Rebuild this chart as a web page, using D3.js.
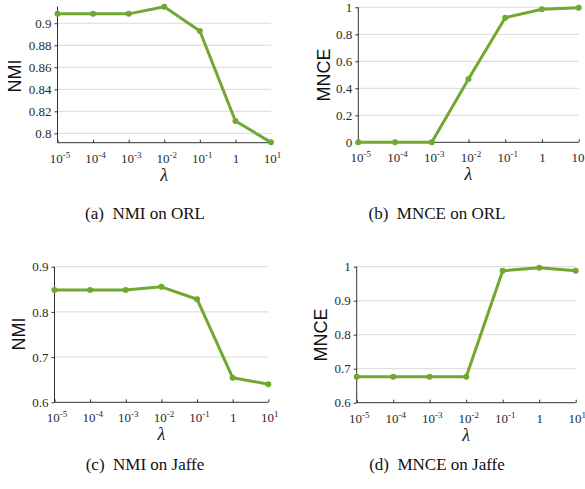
<!DOCTYPE html>
<html><head><meta charset="utf-8">
<script src="https://cdn.jsdelivr.net/npm/d3@7"></script>
<style>body{margin:0;background:#fff}svg{display:block}
.serif{font-family:"Liberation Serif","Times New Roman","DejaVu Serif",serif}
.sans{font-family:"Liberation Sans",Arial,sans-serif}
</style>
</head><body>
<script>
const lambdaExps = [-5, -4, -3, -2, -1, 0, 1];
const nmiORL = [0.9085, 0.9085, 0.9085, 0.915, 0.893, 0.8112, 0.7918];
const mnceORL = [0.0, 0.0, 0.0, 0.469, 0.923, 0.985, 0.997];
const nmiJaffe = [0.8485, 0.8485, 0.8485, 0.8555, 0.828, 0.6545, 0.640];
const mnceJaffe = [0.6765, 0.6765, 0.6765, 0.6765, 0.988, 0.997, 0.988];
const ticksNmiORL = [0.8, 0.82, 0.84, 0.86, 0.88, 0.9];
const ticksMnceORL = [0, 0.2, 0.4, 0.6, 0.8, 1];
const ticksNmiJaffe = [0.6, 0.7, 0.8, 0.9];
const ticksMnceJaffe = [0.6, 0.7, 0.8, 0.9, 1];
const captions = ["(a)\u2002NMI on ORL", "(b)\u2002MNCE on ORL", "(c)\u2002NMI on Jaffe", "(d)\u2002MNCE on Jaffe"];
const yTitles = ["NMI", "MNCE", "NMI", "MNCE"];

const W = 585, H = 489;
const svg = d3.select("body").append("svg").attr("width", W).attr("height", H);
const green = "#71a832";

const panels = [
  {x0: 57.5, x1: 271, yb: 142.7, yt: 6.7, dom: [0.7915, 0.915], ticks: ticksNmiORL, fmt: d => String(+d.toFixed(2)), data: nmiORL, tx: 15, ty: 76, cx: 145, cy: 219},
  {x0: 358.3, x1: 578.7, yb: 142.3, yt: 7.3, dom: [0, 1], ticks: ticksMnceORL, fmt: d => String(d), data: mnceORL, tx: 324, ty: 75, cx: 437, cy: 219},
  {x0: 54.5, x1: 268.3, yb: 402.3, yt: 266.7, dom: [0.6, 0.9], ticks: ticksNmiJaffe, fmt: d => String(d), data: nmiJaffe, tx: 19, ty: 334, cx: 145, cy: 470},
  {x0: 356.7, x1: 575.7, yb: 402.7, yt: 266.7, dom: [0.6, 1], ticks: ticksMnceJaffe, fmt: d => String(d), data: mnceJaffe, tx: 321, ty: 335, cx: 437, cy: 470}
];

panels.forEach((p, i) => {
  const g = svg.append("g");
  const x = d3.scalePoint().domain(lambdaExps).range([p.x0, p.x1]);
  const y = d3.scaleLinear().domain(p.dom).range([p.yb, p.yt]);

  // grid
  g.append("g").selectAll("line").data(p.ticks.filter(t => t !== p.dom[0]))
    .join("line")
    .attr("x1", p.x0).attr("x2", p.x1)
    .attr("y1", d => y(d)).attr("y2", d => y(d))
    .attr("stroke", "#d9d9d9").attr("stroke-width", 1);

  // y axis
  const ya = g.append("g").attr("transform", `translate(${p.x0},0)`)
    .call(d3.axisLeft(y).tickValues(p.ticks).tickSize(3).tickPadding(3).tickFormat(p.fmt));
  ya.attr("font-family", null);
  ya.select(".domain").attr("stroke", "#333").attr("d", `M0,${p.yb}V${p.yt}`);
  ya.selectAll(".tick line").attr("stroke", "#333");
  ya.selectAll("text").attr("class", "serif").style("font-size", "13px").attr("fill", "#2a2a2a");

  // x axis
  const xa = g.append("g").attr("transform", `translate(0,${p.yb})`)
    .call(d3.axisBottom(x).tickSize(-3).tickPadding(0).tickFormat(""));
  xa.attr("font-family", null);
  xa.select(".domain").attr("stroke", "#333").attr("d", `M${p.x0},0H${p.x1}`);
  xa.selectAll(".tick line").attr("stroke", "#333");
  xa.selectAll(".tick").each(function(e) {
    const t = d3.select(this).append("text")
      .attr("class", "serif")
      .attr("y", 20).attr("fill", "#2a2a2a")
      .style("font-size", "13px")
      .attr("text-anchor", "middle");
    if (e === 0) {
      t.text("1");
    } else {
      t.append("tspan").text("10");
      t.append("tspan").attr("dy", -5).style("font-size", "9px").text(String(e));
      t.attr("dx", e === 1 ? 1 : 2);
    }
  });

  // axis titles
  g.append("text").attr("class", "serif").attr("x", (p.x0 + p.x1) / 2).attr("y", p.yb + 38)
    .attr("text-anchor", "middle").style("font-style", "italic")
    .style("font-size", "18px").attr("fill", "#222").text("\u03bb");
  g.append("text").attr("class", "sans").attr("transform", `translate(${p.tx},${p.ty}) rotate(-90)`)
    .attr("text-anchor", "middle").attr("dominant-baseline", "central")
    .style("font-size", "18px").attr("fill", "#111").text(yTitles[i]);

  // line
  const pts = lambdaExps.map((e, k) => [x(e), y(p.data[k])]);
  g.append("path").attr("d", d3.line()(pts)).attr("fill", "none")
    .attr("stroke", green).attr("stroke-width", 3).attr("stroke-linejoin", "round");
  g.append("g").selectAll("circle").data(pts).join("circle")
    .attr("cx", d => d[0]).attr("cy", d => d[1]).attr("r", 3).attr("fill", green);

  // caption
  svg.append("text").attr("class", "serif").attr("x", p.cx).attr("y", p.cy).attr("text-anchor", "middle")
    .style("font-size", "17px").attr("fill", "#111").text(captions[i]);
});
</script>
</body></html>
